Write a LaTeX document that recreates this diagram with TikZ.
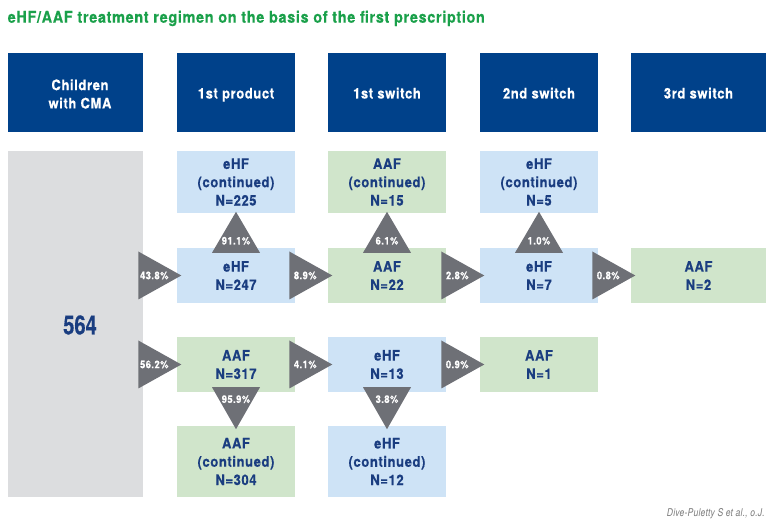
\documentclass[tikz,border=0pt]{standalone}
\usepackage{fontspec}
\setmainfont{TeX Gyre Heros}[FakeStretch=0.9,LetterSpace=4,BoldFeatures={FakeBold=0.4}]
\newfontfamily\numfont{TeX Gyre Heros}[FakeStretch=0.76,BoldFeatures={FakeBold=0.4}]
\newfontfamily\citefont{TeX Gyre Heros}[FakeStretch=0.8,LetterSpace=2]
\usetikzlibrary{calc}
\definecolor{hdr}{HTML}{00418A}
\definecolor{lblue}{HTML}{CEE3F6}
\definecolor{lgreen}{HTML}{D0E5CB}
\definecolor{lgray}{HTML}{DCDDDF}
\definecolor{trig}{HTML}{6E7076}
\definecolor{txtblue}{HTML}{1A3D80}
\definecolor{ttlgreen}{HTML}{1AA04A}
\definecolor{cite}{HTML}{7A7A7A}
\tikzset{
  hbox/.style={fill=hdr, draw=none, minimum height=79.5, inner sep=0},
  cell/.style={draw=none, inner sep=0, align=center, text=txtblue,
     font=\fontsize{14.5}{18.3}\selectfont\bfseries},
  bcell/.style={cell, fill=lblue},
  gcell/.style={cell, fill=lgreen},
  hdrtext/.style={text=white, align=center, inner sep=0, font=\fontsize{14.5}{18.3}\selectfont\bfseries},
  tri/.style={fill=trig, draw=none},
  pct/.style={text=white, inner sep=0, font=\fontsize{10.5}{11}\selectfont\bfseries},
}
\newcommand\rtri[4]{% name, from, to, label
  \fill[tri] ($(#3.west)+(4.5,0)$) -- ++(-43,-24) -- ++(0,48) -- cycle;
  \node[pct] (#1) at ($(#3.west)+(4.5-27,0)$) {#4};}
\newcommand\utri[4]{% name, upper, lower, label
  \fill[tri] ($(#3.north)+(0,5)$) -- ++(-24,0) -- ++(24,-41) -- ++(24,41) -- cycle;
  \node[pct] (#1) at ($(#3.north)+(0,-7)$) {#4};}
\newcommand\dtri[4]{% name, upper, lower, label
  \fill[tri] ($(#2.south)+(0,-5)$) -- ++(-24,0) -- ++(24,42) -- ++(24,-42) -- cycle;
  \node[pct] (#1) at ($(#2.south)+(0,7)$) {#4};}
\begin{document}
\begin{tikzpicture}[x=1pt,y=-1pt]
\useasboundingbox (0,0) rectangle (777,526);
% title
\node[anchor=base west, inner sep=0, text=ttlgreen, font=\fontsize{16.1}{18}\selectfont\bfseries] (title) at (7.5,22.7)
  {eHF/AAF treatment regimen on the basis of the first prescription};
% headers
\node[hbox, minimum width=135] (h0) at (75.5,92.75) {};
\node[hdrtext] (h0t) at (80,94) {Children\\with CMA};
\node[hbox, minimum width=118] (h1) at (236,92.75) {};
\node[hdrtext, anchor=base] (h1t) at (236,98.5) {1st product};
\node[hbox, minimum width=118] (h2) at (387,92.75) {};
\node[hdrtext, anchor=base] (h2t) at (387,98.5) {1st switch};
\node[hbox, minimum width=118] (h3) at (539,92.75) {};
\node[hdrtext, anchor=base] (h3t) at (539,98.5) {2nd switch};
\node[hbox, minimum width=135] (h4) at (698.5,92.75) {};
\node[hdrtext, anchor=base] (h4t) at (698.5,98.5) {3rd switch};
% gray column
\node[fill=lgray, draw=none, inner sep=0, minimum width=135, minimum height=346] (g) at (75.5,324) {};
\node[text=txtblue, inner sep=0, font=\fontsize{26.5}{27}\numfont\bfseries] (gt) at (80,325) {564};
% cells
\node[bcell, minimum width=118, minimum height=62] (c1r1) at (236,182) {eHF\\(continued)\\N=225};
\node[bcell, minimum width=118, minimum height=55] (c1r2) at (236,275.5) {eHF\\N=247};
\node[gcell, minimum width=118, minimum height=55] (c1r3) at (236,364.5) {AAF\\N=317};
\node[gcell, minimum width=118, minimum height=71] (c1r4) at (236,461.5) {AAF\\(continued)\\N=304};
\node[gcell, minimum width=118, minimum height=62] (c2r1) at (387,182) {AAF\\(continued)\\N=15};
\node[gcell, minimum width=118, minimum height=55] (c2r2) at (387,275.5) {AAF\\N=22};
\node[bcell, minimum width=118, minimum height=55] (c2r3) at (387,364.5) {eHF\\N=13};
\node[bcell, minimum width=118, minimum height=71] (c2r4) at (387,461.5) {eHF\\(continued)\\N=12};
\node[bcell, minimum width=118, minimum height=62] (c3r1) at (539,182) {eHF\\(continued)\\N=5};
\node[bcell, minimum width=118, minimum height=55] (c3r2) at (539,275.5) {eHF\\N=7};
\node[gcell, minimum width=118, minimum height=55] (c3r3) at (539,364.5) {AAF\\N=1};
\node[gcell, minimum width=135, minimum height=55] (c4r2) at (698.5,275.5) {AAF\\N=2};
% triangles
\rtri{p1}{g}{c1r2}{43.8\%}
\rtri{p2}{g}{c1r3}{56.2\%}
\rtri{p3}{c1r2}{c2r2}{8.9\%}
\rtri{p4}{c1r3}{c2r3}{4.1\%}
\rtri{p5}{c2r2}{c3r2}{2.8\%}
\rtri{p6}{c2r3}{c3r3}{0.9\%}
\rtri{p7}{c3r2}{c4r2}{0.8\%}
\utri{p8}{c1r1}{c1r2}{91.1\%}
\utri{p9}{c2r1}{c2r2}{6.1\%}
\utri{p10}{c3r1}{c3r2}{1.0\%}
\dtri{p11}{c1r3}{c1r4}{95.9\%}
\dtri{p12}{c2r3}{c2r4}{3.8\%}
% citation
\node[anchor=base east, inner sep=0, text=cite, font=\fontsize{10.7}{12}\citefont\itshape] (cit) at (765,516.7) {Dive-Puletty S et al., o.J.};
\end{tikzpicture}
\end{document}
